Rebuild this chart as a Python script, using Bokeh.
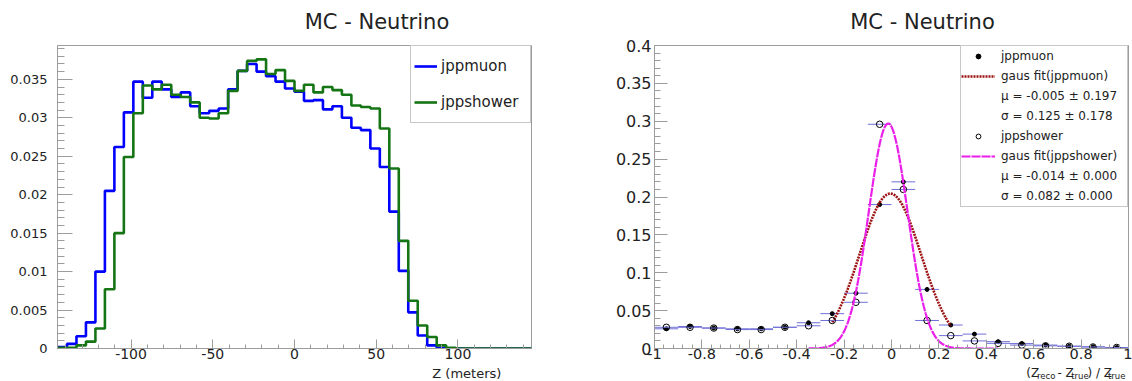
import numpy as np
from bokeh.plotting import figure
from bokeh.layouts import row, column
from bokeh.models import (FixedTicker, CustomJSTickFormatter, Legend, LegendItem,
                          Range1d, ColumnDataSource)
from bokeh.core.properties import value
from bokeh.embed import file_html
from bokeh.resources import INLINE

# ------------------------------------------------------------------ data
title_text = "MC - Neutrino"

# left panel: normalised reconstructed Z, 50 bins over [-145, 145] m
z_range = (-145.0, 145.0)
z_nbins = 50
jppmuon_z = [0.0002, 0.0006, 0.0016, 0.0034, 0.0100, 0.0205, 0.0262, 0.0307, 0.0347, 0.0326,
             0.0347, 0.0337, 0.0327, 0.0333, 0.0315, 0.0306, 0.0309, 0.0312, 0.0337, 0.0361,
             0.0370, 0.0360, 0.0354, 0.0347, 0.0338, 0.0334, 0.0322, 0.0323, 0.0311, 0.0315,
             0.0300, 0.0287, 0.0284, 0.0260, 0.0236, 0.0178, 0.0101, 0.0047, 0.0017, 0.0004,
             0.0001, 0.0, 0.0, 0.0, 0.0, 0.0, 0.0, 0.0, 0.0, 0.0]
jppshower_z = [0.0001, 0.0001, 0.0004, 0.0009, 0.0026, 0.0077, 0.0150, 0.0249, 0.0306, 0.0342,
               0.0337, 0.0343, 0.0330, 0.0327, 0.0320, 0.0300, 0.0299, 0.0306, 0.0335, 0.0361,
               0.0374, 0.0376, 0.0357, 0.0362, 0.0348, 0.0335, 0.0343, 0.0333, 0.0340, 0.0336,
               0.0330, 0.0316, 0.0314, 0.0312, 0.0286, 0.0234, 0.0140, 0.0062, 0.0030, 0.0015,
               0.0004, 0.0001, 0.0, 0.0, 0.0, 0.0, 0.0, 0.0, 0.0, 0.0]
z_series_names = ["jppmuon", "jppshower"]
z_axis_label = "Z (meters)"
z_xticks = [-100, -50, 0, 50, 100]
z_yticks = [0, 0.005, 0.01, 0.015, 0.02, 0.025, 0.03, 0.035]
z_ymax = 0.0394

# right panel: (Z_reco - Z_true)/Z_true, 20 bins over [-1, 1]
res_bin_centers = [-0.95, -0.85, -0.75, -0.65, -0.55, -0.45, -0.35, -0.25, -0.15, -0.05,
                   0.05, 0.15, 0.25, 0.35, 0.45, 0.55, 0.65, 0.75, 0.85, 0.95]
res_bin_halfwidth = 0.05
jppmuon_res = [0.026, 0.029, 0.027, 0.026, 0.026, 0.028, 0.034, 0.046, 0.073, 0.190,
               0.220, 0.078, 0.031, 0.019, 0.009, 0.0065, 0.0045, 0.003, 0.0022, 0.0013]
jppshower_res = [0.028, 0.028, 0.027, 0.025, 0.025, 0.028, 0.030, 0.037, 0.061, 0.296,
                 0.210, 0.037, 0.017, 0.010, 0.0068, 0.0045, 0.0035, 0.003, 0.002, 0.0013]
gaus_muon = {"amp": 0.2045, "mean": -0.005, "sigma": 0.13, "xmin": -0.25, "xmax": 0.25}
gaus_shower = {"amp": 0.297, "mean": -0.014, "sigma": 0.082, "xmin": -0.35, "xmax": 0.45}
res_legend_labels = ["jppmuon", "gaus fit(jppmuon)", "\u03bc = -0.005 \u00b1 0.197",
                     "\u03c3 = 0.125 \u00b1 0.178", "jppshower", "gaus fit(jppshower)",
                     "\u03bc = -0.014 \u00b1 0.000", "\u03c3 = 0.082 \u00b1 0.000"]
res_xticks = [-1, -0.8, -0.6, -0.4, -0.2, 0, 0.2, 0.4, 0.6, 0.8, 1]
res_yticks = [0, 0.05, 0.1, 0.15, 0.2, 0.25, 0.3, 0.35, 0.4]
res_ymax = 0.4
res_axis_pieces = [("(Z", False), ("reco", True), (" - Z", False), ("true", True),
                   (") / Z", False), ("true", True)]

# ------------------------------------------------------------------ style
FONT = "DejaVu Sans"
TXT = "#222222"
FRAME = "#9c9c9c"
W = 566
TITLE_H = 34      # strip holding the title (page rows 0-34)
PLOT_H = 331      # main figure (page rows 34-365)
LABEL_H = 16      # strip holding the x-axis title (page rows 365-381)
FRAME_TOP = 11    # frame top at 45 px in the page
FRAME_BOT = 17    # frame bottom at 348 px in the page
BASE_SHIFT = 0.37  # em offset between requested and drawn alphabetic baseline
SUB_GAP = 2.0      # extra room after a subscript
FMT = CustomJSTickFormatter(code="return String(parseFloat(tick.toFixed(6)));")

# DejaVu Sans advance widths (em/1000) for composing the sub-scripted label
ADV = {"(": 390, ")": 390, "Z": 685, " ": 318, "-": 361, "/": 337, "r": 411,
       "e": 615, "c": 550, "o": 612, "t": 392, "u": 634}


def text_w(s, size):
    return sum(ADV.get(ch, 600) for ch in s) / 1000.0 * size


def strip(height):
    """A bare figure used only to carry text outside the plot frames (pixel coords)."""
    s = figure(width=W, height=height, x_range=Range1d(0, W), y_range=Range1d(height, 0),
               x_axis_type=None, y_axis_type=None, output_backend="svg",
               toolbar_location=None, title=None, min_border=0)
    s.outline_line_color = None
    s.background_fill_color = "white"
    s.border_fill_color = "white"
    return s


def style_axes(p, xt, xminor, yt, yminor, xfs, yfs, xstand, ystand, xtl, ytl):
    p.outline_line_color = FRAME
    p.outline_line_width = 1
    p.xgrid.visible = False
    p.ygrid.visible = False
    p.background_fill_color = "white"
    p.border_fill_color = "white"
    p.xaxis.ticker = FixedTicker(ticks=xt, minor_ticks=xminor)
    p.yaxis.ticker = FixedTicker(ticks=yt, minor_ticks=yminor)
    for ax, fs, st, tl in ((p.xaxis[0], xfs, xstand, xtl), (p.yaxis[0], yfs, ystand, ytl)):
        ax.formatter = FMT
        ax.axis_line_color = FRAME
        ax.major_tick_line_color = FRAME
        ax.minor_tick_line_color = FRAME
        ax.major_tick_out = 0
        ax.minor_tick_out = 0
        ax.major_tick_in = tl
        ax.minor_tick_in = max(3, tl // 2)
        ax.major_label_text_font = FONT
        ax.major_label_text_font_size = fs
        ax.major_label_text_color = TXT
        ax.major_label_standoff = st


def text_at(s, x, baseline, txt, size, align="left"):
    s.text(x=[x], y=[baseline - BASE_SHIFT * size], text=[txt], text_align=align,
           text_baseline="alphabetic", text_font=value(FONT),
           text_font_size=value(f"{size}px"), text_color=TXT)


# ------------------------------------------------------------------ left figure
LF = (57, 531)  # frame left/right in figure pixels
p1 = figure(width=W, height=PLOT_H, x_range=Range1d(*z_range), y_range=Range1d(0, z_ymax),
            output_backend="svg", toolbar_location=None, title=None,
            min_border_left=LF[0], min_border_right=W - LF[1],
            min_border_top=FRAME_TOP, min_border_bottom=FRAME_BOT)

edges = np.linspace(z_range[0], z_range[1], z_nbins + 1)
r_mu = p1.step(edges, np.append(jppmuon_z, jppmuon_z[-1]), mode="after",
               line_color="#0000ff", line_width=2.6)
r_sh = p1.step(edges, np.append(jppshower_z, jppshower_z[-1]), mode="after",
               line_color="#157515", line_width=2.6)

style_axes(p1, z_xticks, list(np.arange(-140, 141, 10)), z_yticks,
           list(np.round(np.arange(0, 0.0391, 0.001), 4)),
           "14px", "13px", 0, 10, 9, 15)

leg1 = Legend(items=[LegendItem(label=z_series_names[0], renderers=[r_mu]),
                     LegendItem(label=z_series_names[1], renderers=[r_sh])],
              location="top_right", margin=0, padding=3, spacing=2,
              glyph_width=23, glyph_height=34, label_height=34, label_width=86,
              label_standoff=4, label_text_font=FONT, label_text_font_size="15px",
              label_text_color=TXT, border_line_color="#8f8f8f", border_line_width=1,
              background_fill_color="white", background_fill_alpha=1)
p1.add_layout(leg1)

t1 = strip(TITLE_H)
text_at(t1, 381.5, 29, title_text, 21, "center")
b1 = strip(LABEL_H)
text_at(b1, 530, 12.5, z_axis_label, 13, "right")

# ------------------------------------------------------------------ right figure
RF = (88, 562)
p2 = figure(width=W, height=PLOT_H, x_range=Range1d(-1, 1), y_range=Range1d(0, res_ymax),
            output_backend="svg", toolbar_location=None, title=None,
            min_border_left=RF[0], min_border_right=W - RF[1],
            min_border_top=FRAME_TOP, min_border_bottom=FRAME_BOT)

src = ColumnDataSource(dict(
    x=res_bin_centers,
    xl=[c - res_bin_halfwidth for c in res_bin_centers],
    xr=[c + res_bin_halfwidth for c in res_bin_centers],
    mu=jppmuon_res, sh=jppshower_res))

p2.segment(x0="xl", y0="mu", x1="xr", y1="mu", source=src, line_color="#6f6fd8", line_width=1)
r_pm = p2.scatter("x", "mu", source=src, marker="circle", size=4,
                  fill_color="black", line_color="black")
xm = np.linspace(gaus_muon["xmin"], gaus_muon["xmax"], 200)
r_gm = p2.line(xm, gaus_muon["amp"] * np.exp(-0.5 * ((xm - gaus_muon["mean"]) / gaus_muon["sigma"]) ** 2),
               line_color="#9c1010", line_width=2.6, line_dash="2 1")

p2.segment(x0="xl", y0="sh", x1="xr", y1="sh", source=src, line_color="#6f6fd8", line_width=1)
r_ps = p2.scatter("x", "sh", source=src, marker="circle", size=6.5,
                  fill_color=None, line_color="black", line_width=1)
xs = np.linspace(gaus_shower["xmin"], gaus_shower["xmax"], 200)
r_gs = p2.line(xs, gaus_shower["amp"] * np.exp(-0.5 * ((xs - gaus_shower["mean"]) / gaus_shower["sigma"]) ** 2),
               line_color="#ea1fea", line_width=2.2, line_dash="9 1")

r_blank = p2.scatter(x=[], y=[], marker="circle", size=1, fill_alpha=0, line_alpha=0)

style_axes(p2, res_xticks, list(np.round(np.arange(-1, 1.001, 0.04), 3)), res_yticks,
           list(np.round(np.arange(0, 0.4001, 0.01), 3)),
           "14.5px", "16px", 0, 3, 9, 13)

rend = [r_pm, r_gm, r_blank, r_blank, r_ps, r_gs, r_blank, r_blank]
leg2 = Legend(items=[LegendItem(label=lab, renderers=[r]) for lab, r in zip(res_legend_labels, rend)],
              location="top_right", margin=0, padding=0, spacing=0,
              glyph_width=34, glyph_height=12, label_height=20, label_width=126,
              label_standoff=6, label_text_font=FONT, label_text_font_size="12px",
              label_text_color=TXT, border_line_color="#8f8f8f", border_line_width=1,
              background_fill_color="white", background_fill_alpha=1)
p2.add_layout(leg2)

t2 = strip(TITLE_H)
text_at(t2, 320, 29, title_text, 21, "center")
b2 = strip(LABEL_H)
MAIN, SUB = 12, 8.5


def piece_w(s, sub):
    return text_w(s, SUB if sub else MAIN) + (SUB_GAP if sub else 0.0)


total = sum(piece_w(s, sub) for s, sub in res_axis_pieces)
cur = 561 - total
for s, sub in res_axis_pieces:
    size = SUB if sub else MAIN
    lead = len(s) - len(s.lstrip(" "))
    text_at(b2, cur + text_w(s[:lead], size), 14 if sub else 11.5, s.strip(" "), size)
    cur += piece_w(s, sub)

layout = row(column(t1, p1, b1), column(t2, p2, b2))
open("out.html", "w").write(file_html(layout, INLINE))
